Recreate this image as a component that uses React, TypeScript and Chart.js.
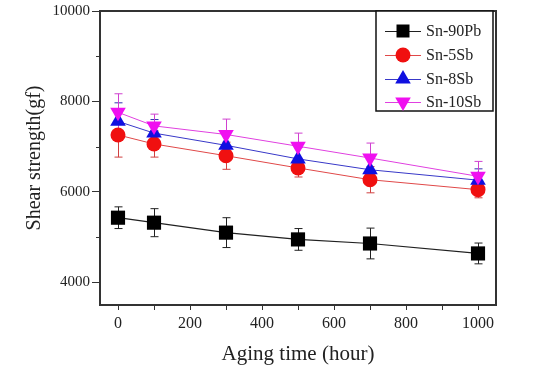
import React, { useEffect, useRef } from 'react';
import { Chart, registerables } from 'chart.js';

Chart.register(...registerables);

const agingHours = [0, 100, 300, 500, 700, 1000];
const seriesNames = ['Sn-90Pb', 'Sn-5Sb', 'Sn-8Sb', 'Sn-10Sb'];
const sn90Pb = [5430, 5320, 5100, 4950, 4860, 4640];
const sn90PbErr = [240, 310, 330, 240, 340, 230];
const sn5Sb = [7260, 7060, 6800, 6530, 6270, 6050];
const sn5SbErr = [490, 290, 300, 200, 290, 180];
const sn8Sb = [7560, 7300, 7030, 6730, 6490, 6260];
const sn8SbErr = [410, 300, 300, 250, 250, 250];
const sn10Sb = [7760, 7460, 7270, 7010, 6750, 6345];
const sn10SbErr = [410, 260, 340, 290, 330, 330];
const xTickValues = [0, 100, 200, 300, 400, 500, 600, 700, 800, 900, 1000];
const xTickLabels = ['0', '200', '400', '600', '800', '1000'];
const yTickValues = [4000, 5000, 6000, 7000, 8000, 9000, 10000];
const yTickLabels = ['4000', '6000', '8000', '10000'];
const yMinorTicks = [5000, 7000, 9000];

const FONT = "'Liberation Serif', 'Times New Roman', serif";

const markerColors = ['#000000', '#f01010', '#1010e0', '#f010f0'];
const lineColors = ['#202020', '#e04848', '#3838c8', '#e040e0'];
const errColors = ['#202020', '#d04040', '#3030b0', '#d040d0'];
const pointStyles = ['rect', 'circle', 'triangle', 'triangle'];
const pointRadii = [10, 7.5, 9, 9];
const pointRotations = [0, 0, 0, 180];

const values = [sn90Pb, sn5Sb, sn8Sb, sn10Sb];
const errors = [sn90PbErr, sn5SbErr, sn8SbErr, sn10SbErr];

function drawMarker(ctx: CanvasRenderingContext2D, i: number, x: number, y: number) {
  ctx.save();
  ctx.fillStyle = markerColors[i];
  ctx.beginPath();
  if (i === 0) {
    ctx.rect(x - 6.5, y - 6.5, 13, 13);
  } else if (i === 1) {
    ctx.arc(x, y, 7.5, 0, Math.PI * 2);
  } else {
    const r = 9;
    const dir = i === 2 ? -1 : 1;
    ctx.moveTo(x, y + dir * r);
    ctx.lineTo(x + r * 0.866, y - dir * r * 0.5);
    ctx.lineTo(x - r * 0.866, y - dir * r * 0.5);
    ctx.closePath();
  }
  ctx.fill();
  ctx.restore();
}

const extrasPlugin = {
  id: 'extras',
  beforeDatasetsDraw(chart: any) {
    const ctx = chart.ctx as CanvasRenderingContext2D;
    const xs = chart.scales.x;
    const ys = chart.scales.y;
    ctx.save();
    values.forEach((series, i) => {
      ctx.strokeStyle = errColors[i];
      ctx.lineWidth = 1;
      series.forEach((v, j) => {
        const px = Math.round(xs.getPixelForValue(agingHours[j])) + 0.5;
        const top = ys.getPixelForValue(v + errors[i][j]);
        const bot = ys.getPixelForValue(v - errors[i][j]);
        ctx.beginPath();
        ctx.moveTo(px, top);
        ctx.lineTo(px, bot);
        ctx.moveTo(px - 4, top);
        ctx.lineTo(px + 4, top);
        ctx.moveTo(px - 4, bot);
        ctx.lineTo(px + 4, bot);
        ctx.stroke();
      });
    });
    ctx.restore();
  },
  afterDraw(chart: any) {
    const ctx = chart.ctx as CanvasRenderingContext2D;
    const a = chart.chartArea;
    const ys = chart.scales.y;
    ctx.save();
    ctx.strokeStyle = '#333333';
    ctx.lineWidth = 2;
    ctx.strokeRect(a.left, a.top, a.right - a.left, a.bottom - a.top);
    ctx.lineWidth = 1;
    yMinorTicks.forEach((v) => {
      const py = Math.round(ys.getPixelForValue(v)) + 0.5;
      ctx.beginPath();
      ctx.moveTo(a.left - 4, py);
      ctx.lineTo(a.left, py);
      ctx.stroke();
    });
    const bx = 376, by = 11, bw = 117, bh = 100;
    ctx.fillStyle = '#ffffff';
    ctx.fillRect(bx, by, bw, bh);
    ctx.strokeStyle = '#111111';
    ctx.lineWidth = 1.5;
    ctx.strokeRect(bx, by, bw, bh);
    const rows = [31, 55, 79, 102];
    ctx.font = `16px ${FONT}`;
    ctx.textBaseline = 'middle';
    ctx.textAlign = 'left';
    seriesNames.forEach((name, i) => {
      const y = rows[i];
      ctx.strokeStyle = lineColors[i];
      ctx.lineWidth = 1;
      ctx.beginPath();
      ctx.moveTo(385, y + 0.5);
      ctx.lineTo(421, y + 0.5);
      ctx.stroke();
      drawMarker(ctx, i, 403, y);
      ctx.fillStyle = '#222222';
      ctx.fillText(name, 426, y + 1);
    });
    ctx.restore();
  },
};

export default function App() {
  const ref = useRef<HTMLCanvasElement | null>(null);

  useEffect(() => {
    if (!ref.current) return;
    const datasets = values.map((series, i) => ({
      label: seriesNames[i],
      data: series.map((v, j) => ({ x: agingHours[j], y: v })),
      borderColor: lineColors[i],
      backgroundColor: markerColors[i],
      borderWidth: i === 0 ? 1.2 : 1,
      pointStyle: pointStyles[i],
      pointRadius: pointRadii[i],
      pointRotation: pointRotations[i],
      pointBorderWidth: 0,
      pointBackgroundColor: markerColors[i],
      pointBorderColor: markerColors[i],
      tension: 0,
      fill: false,
      order: 3 - i,
    }));

    const chart = new Chart(ref.current, {
      type: 'line',
      data: { datasets },
      plugins: [extrasPlugin],
      options: {
        animation: false,
        responsive: false,
        maintainAspectRatio: false,
        layout: { padding: { left: 20, right: 49, top: 10, bottom: 0 } },
        plugins: { legend: { display: false }, tooltip: { enabled: false } },
        scales: {
          x: {
            type: 'linear',
            min: -50,
            max: 1050,
            afterFit: (s: any) => { s.height = 73; },
            afterBuildTicks: (s: any) => { s.ticks = xTickValues.map((v) => ({ value: v })); },
            ticks: {
              autoSkip: false,
              maxRotation: 0,
              padding: 4,
              color: '#222222',
              font: { family: FONT, size: 16 },
              callback: (v: any) => (xTickLabels.includes(String(v)) ? String(v) : ''),
            },
            grid: {
              display: true,
              drawOnChartArea: false,
              drawTicks: true,
              tickLength: 5,
              tickColor: '#333333',
              tickWidth: 1,
            },
            border: { display: false },
            title: {
              display: true,
              text: 'Aging time (hour)',
              color: '#222222',
              font: { family: FONT, size: 21, lineHeight: 1 },
              padding: { top: 0, bottom: 13 },
            },
          },
          y: {
            type: 'linear',
            min: 3500,
            max: 10000,
            afterFit: (s: any) => { s.width = 80; },
            afterBuildTicks: (s: any) => { s.ticks = yTickValues.map((v) => ({ value: v })); },
            ticks: {
              autoSkip: false,
              padding: 2,
              color: '#222222',
              font: { family: FONT, size: 15 },
              callback: (v: any) => (yTickLabels.includes(String(v)) ? String(v) : ''),
            },
            grid: {
              display: true,
              drawOnChartArea: false,
              drawTicks: true,
              tickLength: 8,
              tickWidth: 1,
              tickColor: (c: any) => (c.tick && yTickLabels.includes(String(c.tick.value)) ? '#333333' : 'rgba(0,0,0,0)'),
            },
            border: { display: false },
            title: {
              display: true,
              text: 'Shear strength(gf)',
              color: '#222222',
              font: { family: FONT, size: 20, lineHeight: 1 },
              padding: { top: 5, bottom: 0 },
            },
          },
        },
      },
    });
    return () => chart.destroy();
  }, []);

  return (
    <div style={{ position: 'absolute', left: 0, top: 0, width: 545, height: 378, background: '#ffffff' }}>
      <canvas ref={ref} width={545} height={378} style={{ display: 'block' }} />
    </div>
  );
}
